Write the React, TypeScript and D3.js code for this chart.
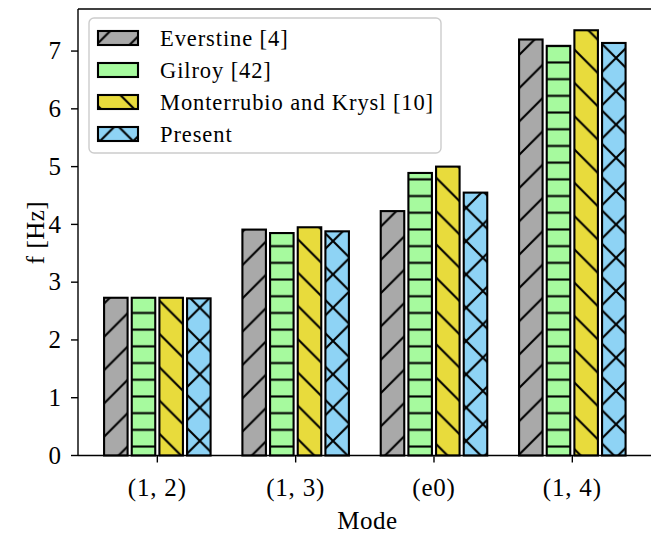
import * as d3 from 'd3';

const W = 651;
const H = 534;
const MARGIN = { top: 9, right: 0, bottom: 78, left: 78 };

const modes = ['(1, 2)', '(1, 3)', '(e0)', '(1, 4)'];
const seriesNames = ['Everstine [4]', 'Gilroy [42]', 'Monterrubio and Krysl [10]', 'Present'];
const everstine = [2.73, 3.91, 4.23, 7.2];
const gilroy = [2.73, 3.85, 4.89, 7.09];
const monterrubio = [2.73, 3.95, 5.0, 7.36];
const present = [2.72, 3.88, 4.55, 7.14];
const yTicks = [0, 1, 2, 3, 4, 5, 6, 7];

const allSeries = [everstine, gilroy, monterrubio, present];
const colors = ['#a9a9a9', '#a6fa9e', '#e8db3c', '#8ed3f5'];
const hatches = ['ne', 'h', 'se', 'x'];

const SLOT = 0.2;
const BAR_W = 0.17;
const FONT = '"Liberation Serif", "Times New Roman", serif';

const D = 33.3; // diagonal hatch spacing
const HS = 16.7; // horizontal hatch spacing

const Hatch = ({ id, kind, color }: { id: string; kind: string; color: string }) => {
  let path = '';
  let w = D;
  let h = D;
  if (kind === 'ne' || kind === 'x') {
    path += `M0,${D} L${D},0 M${-D / 2},${D / 2} L${D / 2},${-D / 2} M${D / 2},${1.5 * D} L${1.5 * D},${D / 2} `;
  }
  if (kind === 'se' || kind === 'x') {
    path += `M0,0 L${D},${D} M${-D / 2},${D / 2} L${D / 2},${1.5 * D} M${D / 2},${-D / 2} L${1.5 * D},${D / 2}`;
  }
  if (kind === 'h') {
    w = 20;
    h = HS;
    path = `M-1,${HS / 2} L21,${HS / 2}`;
  }
  return (
    <pattern id={id} patternUnits="userSpaceOnUse" width={w} height={h} y={kind === 'h' ? 4 : 8}>
      <rect width={w} height={h} fill={color} />
      <path d={path} stroke="#000" strokeWidth={2.1} fill="none" />
    </pattern>
  );
};

export default function App() {
  const boundsW = W - MARGIN.left - MARGIN.right;
  const boundsH = H - MARGIN.top - MARGIN.bottom;
  const lo = -0.385 - 0.05 * 3.77;
  const hi = 3.385 + 0.05 * 3.77;
  const x = d3.scaleLinear().domain([lo, hi]).range([MARGIN.left, MARGIN.left + 138.33 * (hi - lo)]);
  const y = d3.scaleLinear().domain([0, 7.36 * 1.05]).range([H - MARGIN.bottom - 0.5, MARGIN.top]);
  const px = x(1) - x(0);

  const bars = allSeries.flatMap((vals, s) =>
    vals.map((v, i) => {
      const cx = x(i + (s - 1.5) * SLOT);
      return (
        <rect
          key={`${s}-${i}`}
          x={cx - (BAR_W * px) / 2}
          width={BAR_W * px}
          y={y(v)}
          height={y(0) - y(v)}
          fill={`url(#hatch${s})`}
          stroke="#000"
          strokeWidth={2.1}
        />
      );
    })
  );

  const legY = [38, 70, 102, 134];

  return (
    <div style={{ position: 'fixed', left: 0, top: 0 }}>
      <svg width={W} height={H} style={{ display: 'block', background: '#fff' }} fontFamily={FONT}>
        <defs>
          {colors.map((c, i) => (
            <Hatch key={i} id={`hatch${i}`} kind={hatches[i]} color={c} />
          ))}
        </defs>
        {bars}
        {/* spines */}
        <g stroke="#000" strokeWidth={1.4} fill="none">
          <line x1={MARGIN.left} x2={W + 5} y1={MARGIN.top} y2={MARGIN.top} />
          <line x1={MARGIN.left} x2={W + 5} y1={y(0)} y2={y(0)} />
          <line x1={MARGIN.left} x2={MARGIN.left} y1={MARGIN.top} y2={y(0)} />
        </g>
        {yTicks.map((t) => (
          <g key={t}>
            <line x1={MARGIN.left - 7} x2={MARGIN.left} y1={y(t)} y2={y(t)} stroke="#000" strokeWidth={1.4} />
            <text x={MARGIN.left - 17} y={y(t)} dy="0.33em" textAnchor="end" fontSize={25}>
              {t}
            </text>
          </g>
        ))}
        {modes.map((m, i) => (
          <g key={m}>
            <line x1={x(i)} x2={x(i)} y1={y(0)} y2={y(0) + 7} stroke="#000" strokeWidth={1.4} />
            <text x={x(i)} y={y(0) + 40} textAnchor="middle" fontSize={25} letterSpacing={0.8}>
              {m}
            </text>
          </g>
        ))}
        <text x={MARGIN.left + boundsW / 2 + 3} y={529} textAnchor="middle" fontSize={25} letterSpacing={0.5}>
          Mode
        </text>
        <text
          transform={`translate(44,${MARGIN.top + boundsH / 2}) rotate(-90)`}
          textAnchor="middle"
          fontSize={25}
          letterSpacing={0.5}
        >
          f [Hz]
        </text>
        {/* legend */}
        <rect x={89} y={18} width={352} height={135} rx={5} fill="#fff" fillOpacity={0.8} stroke="#cccccc" strokeWidth={1.4} />
        {seriesNames.map((n, i) => (
          <g key={n}>
            <rect x={98} y={legY[i] - 7} width={40} height={14} fill={`url(#hatch${i})`} stroke="#000" strokeWidth={2.1} />
            <text x={160} y={legY[i]} dy="0.35em" fontSize={22.5} letterSpacing={0.9}>
              {n}
            </text>
          </g>
        ))}
      </svg>
    </div>
  );
}
